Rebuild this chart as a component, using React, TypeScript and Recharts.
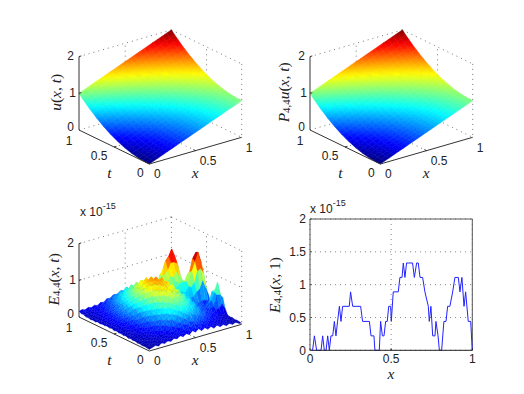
import React from "react";
import { ScatterChart, Scatter, XAxis, YAxis, ComposedChart, Line, CartesianGrid, ReferenceLine } from "recharts";

// u(x,t), rows t = 0..1, columns x = 0..1 (step 0.05), values x100
const uGrid: number[][] = [
[0,5,10,15,20,25,30,35,40,45,50,55,60,65,70,75,80,85,90,95,100],
[0,5,10,15,20,25,30,35,40,45,50,55,60,65,70,75,80,85,90,95,100],
[1,6,11,16,21,26,31,36,41,46,51,56,61,66,71,76,81,86,91,96,101],
[2,7,12,17,22,27,32,37,42,47,52,57,62,67,72,77,82,87,92,97,102],
[4,9,14,19,24,29,34,39,44,49,54,59,64,69,74,79,84,89,94,99,104],
[6,11,16,21,26,31,36,41,46,51,56,61,66,71,76,81,86,91,96,101,106],
[9,14,19,24,29,34,39,44,49,54,59,64,69,74,79,84,89,94,99,104,109],
[12,17,22,27,32,37,42,47,52,57,62,67,72,77,82,87,92,97,102,107,112],
[16,21,26,31,36,41,46,51,56,61,66,71,76,81,86,91,96,101,106,111,116],
[20,25,30,35,40,45,50,55,60,65,70,75,80,85,90,95,100,105,110,115,120],
[25,30,35,40,45,50,55,60,65,70,75,80,85,90,95,100,105,110,115,120,125],
[30,35,40,45,50,55,60,65,70,75,80,85,90,95,100,105,110,115,120,125,130],
[36,41,46,51,56,61,66,71,76,81,86,91,96,101,106,111,116,121,126,131,136],
[42,47,52,57,62,67,72,77,82,87,92,97,102,107,112,117,122,127,132,137,142],
[49,54,59,64,69,74,79,84,89,94,99,104,109,114,119,124,129,134,139,144,149],
[56,61,66,71,76,81,86,91,96,101,106,111,116,121,126,131,136,141,146,151,156],
[64,69,74,79,84,89,94,99,104,109,114,119,124,129,134,139,144,149,154,159,164],
[72,77,82,87,92,97,102,107,112,117,122,127,132,137,142,147,152,157,162,167,172],
[81,86,91,96,101,106,111,116,121,126,131,136,141,146,151,156,161,166,171,176,181],
[90,95,100,105,110,115,120,125,130,135,140,145,150,155,160,165,170,175,180,185,190],
[100,105,110,115,120,125,130,135,140,145,150,155,160,165,170,175,180,185,190,195,200],
];
const pGrid = uGrid;

// E(x,t), rows t = 0..1, columns x = 0..1, values x100 (unit 1e-15)
const eGrid: number[][] = [
[4,7,10,6,12,8,13,9,15,11,17,12,18,13,21,15,22,14,20,13,18,11,17,10,14,8,12,7,10,5,3],
[5,9,6,11,8,14,9,15,10,17,12,20,14,24,16,26,18,25,15,22,14,20,12,17,9,14,8,11,7,9,4],
[6,6,11,7,12,9,14,10,17,12,21,15,27,18,31,22,33,24,27,20,24,16,19,12,16,9,14,7,11,6,5],
[5,10,7,13,9,15,10,18,13,22,18,27,24,32,29,35,33,34,26,31,23,25,17,20,13,17,11,12,9,9,4],
[7,7,12,8,14,12,17,15,21,21,30,28,36,34,43,38,46,33,42,28,35,22,29,17,22,13,17,9,14,7,6],
[6,10,8,13,11,18,13,25,20,33,28,43,38,49,43,52,46,50,39,43,31,34,24,26,17,20,13,14,10,10,5],
[8,8,12,10,17,13,22,20,30,29,43,38,52,48,57,52,58,47,54,39,46,30,36,22,26,16,20,11,15,9,7],
[7,11,9,15,13,21,17,30,27,41,37,53,49,61,56,67,54,65,47,55,41,45,30,34,21,26,17,25,27,36,21],
[9,9,14,12,19,17,27,26,37,37,51,49,63,61,69,64,71,58,65,48,53,38,43,26,30,21,29,31,60,58,48],
[7,12,11,17,15,25,22,36,34,49,46,63,59,73,68,78,66,75,57,65,47,50,38,36,25,30,25,45,64,89,52],
[10,9,15,13,22,21,31,32,45,45,59,57,75,68,85,74,81,70,75,58,61,45,49,32,34,25,31,33,64,66,52],
[8,13,12,19,18,29,27,42,42,56,55,73,68,87,80,90,76,85,70,71,57,57,44,42,29,33,25,31,34,48,23],
[10,10,17,15,25,25,35,38,52,52,69,68,85,80,95,86,93,80,85,68,69,50,55,38,38,27,29,20,25,18,14],
[9,14,13,21,21,33,31,48,48,65,63,83,78,95,88,101,88,95,80,81,62,65,48,48,33,39,27,31,31,27,12],
[11,11,18,17,29,29,39,42,58,58,77,76,93,88,103,96,101,90,91,76,77,58,59,42,44,44,54,60,80,58,35],
[9,15,15,23,24,35,35,52,53,70,70,89,86,103,98,107,96,101,88,89,68,71,54,55,40,66,76,105,110,96,49],
[12,12,19,20,30,31,43,46,62,62,81,80,99,94,109,102,107,96,97,82,81,62,63,46,52,66,104,128,152,122,71],
[10,15,16,24,25,37,36,54,56,72,72,91,90,105,102,113,100,107,90,91,72,73,56,56,48,76,100,134,148,132,66],
[12,11,19,20,30,30,44,46,62,64,81,82,97,96,109,102,107,94,99,80,81,62,66,62,72,72,88,98,116,88,53],
[10,14,15,23,24,35,35,52,52,70,70,87,86,101,98,107,94,99,86,89,70,74,64,74,68,76,64,76,66,60,31],
[11,11,18,18,29,28,40,42,58,58,77,76,91,90,101,94,101,88,91,76,79,74,87,84,95,80,62,40,37,23,18],
[9,14,14,21,22,33,31,48,48,64,62,81,78,93,88,99,86,91,78,81,74,93,102,119,118,113,80,50,25,21,11],
[11,10,17,16,26,25,36,38,52,52,67,66,81,78,91,82,89,78,81,68,79,86,124,134,152,130,102,44,25,13,13],
[8,13,13,19,20,29,27,42,42,54,54,70,66,80,76,86,74,80,66,70,64,86,100,118,124,114,78,44,17,17,8],
[10,9,16,15,23,22,31,33,44,44,59,56,71,66,79,70,79,64,71,56,63,60,78,76,88,68,54,25,21,10,11],
[8,12,12,17,16,26,23,36,34,48,46,60,56,70,64,74,62,68,56,58,46,54,42,52,42,46,26,25,11,14,7],
[10,9,14,13,20,18,28,26,38,36,50,46,60,54,66,56,66,52,58,46,48,36,38,26,30,20,23,13,16,8,9],
[9,12,11,16,14,22,20,31,27,40,36,50,44,58,50,60,48,56,44,48,36,40,26,30,18,24,14,18,9,13,6],
[13,11,15,13,18,16,25,20,32,28,40,36,48,42,54,44,52,42,46,36,40,28,32,20,24,14,20,10,14,7,8],
[12,16,12,17,14,20,18,24,23,32,31,38,36,44,40,46,40,43,36,38,28,30,22,24,16,18,12,14,8,10,5],
[16,18,15,19,16,20,17,23,21,28,26,33,31,36,34,38,34,36,30,33,25,27,19,21,15,16,11,13,8,9,5],
];

// E(x,1) line
const lineX = [0,.016,.027,.041,.068,.078,.088,.099,.109,.119,.129,.14,.15,.16,.17,.181,.191,.201,.242,.25,.263,.312,.324,.366,.376,.394,.4,.427,.435,.446,.456,.466,.476,.485,.497,.501,.513,.544,.554,.567,.575,.585,.595,.606,.632,.643,.657,.667,.678,.694,.708,.729,.735,.745,.756,.77,.776,.789,.797,.811,.825,.838,.848,.862,.879,.893,.914,.924,.936,.949,.959,.975,.99,1];
const lineE = [0,0,.22,0,0,.22,0,0,.22,0,.22,.22,.44,.22,.44,.67,.44,.67,.67,.89,.67,.67,.44,.44,.22,.22,0,0,.44,.22,.22,.44,.44,.67,.67,.44,.89,.89,1.11,1.11,1.33,1.11,1.33,1.33,1.33,1.11,1.33,1.33,1.11,1.11,.89,.67,.44,.67,.22,.22,.44,.22,0,0,.44,.44,.67,.67,.89,1.11,1.11,.89,1.11,.67,.89,.44,.44,0];

const planeTicks = [0, 0.5, 1];
const zTicks = [0, 1, 2];
const lineYTicks = [0, 0.5, 1, 1.5, 2];

const W = 250, H = 200;
const OX = 119.3, OY = H - 154;
const SANS = "'Liberation Sans', Arial, sans-serif";
const SERIF = "'Liberation Serif', serif";

type Run = { s: string; k: "i" | "r" | "sub" };
const labelU: Run[] = [{ s: "u", k: "i" }, { s: "(", k: "r" }, { s: "x", k: "i" }, { s: ", ", k: "r" }, { s: "t", k: "i" }, { s: ")", k: "r" }];
const labelP: Run[] = [{ s: "P", k: "i" }, { s: "4,4", k: "sub" }, ...labelU];
const labelE: Run[] = [{ s: "E", k: "i" }, { s: "4,4", k: "sub" }, { s: "(", k: "r" }, { s: "x", k: "i" }, { s: ", ", k: "r" }, { s: "t", k: "i" }, { s: ")", k: "r" }];
const labelE1: Run[] = [{ s: "E", k: "i" }, { s: "4,4", k: "sub" }, { s: "(", k: "r" }, { s: "x", k: "i" }, { s: ", 1)", k: "r" }];
const labelX: Run[] = [{ s: "x", k: "i" }];
const labelT: Run[] = [{ s: "t", k: "i" }];

const project = (x: number, t: number, z: number) => ({
  X: OX + 92.4 * x - 70.3 * t,
  Y: OY + 26.7 * x + 34 * t + 36.7 * z,
});

const clamp = (v: number) => Math.max(0, Math.min(1, v));
const jet = (v: number) => {
  const r = clamp(Math.min(4 * v - 1.5, -4 * v + 4.5));
  const g = clamp(Math.min(4 * v - 0.5, -4 * v + 3.5));
  const b = clamp(Math.min(4 * v + 0.5, -4 * v + 2.5));
  return `rgb(${Math.round(r * 255)},${Math.round(g * 255)},${Math.round(b * 255)})`;
};

// flat cells: coloured by their first corner. smooth cells: a gradient along the cell's own slope.
const buildCells = (grid: number[][], cmax: number, smooth: string | null) => {
  const cells: any[] = [];
  const nt = grid.length, nx = grid[0].length;
  for (let i = nt - 2; i >= 0; i--) {
    for (let j = nx - 2; j >= 0; j--) {
      const corners: [number, number, number][] = [
        [j, i, grid[i][j]],
        [j + 1, i, grid[i][j + 1]],
        [j + 1, i + 1, grid[i + 1][j + 1]],
        [j, i + 1, grid[i + 1][j]],
      ];
      const pts = corners.map(([a, b, v]) => project(a / (nx - 1), b / (nt - 1), v / 100));
      const X = pts.reduce((s, p) => s + p.X, 0) / 4;
      const Y = pts.reduce((s, p) => s + p.Y, 0) / 4;
      const mean = corners.reduce((s, c) => s + c[2], 0) / 400;
      const cell: any = { X, Y, off: pts.map((p) => [p.X - X, p.Y - Y]) };
      if (smooth) {
        const dzx = (corners[1][2] + corners[2][2] - corners[0][2] - corners[3][2]) / 200;
        const dzt = (corners[3][2] + corners[2][2] - corners[0][2] - corners[1][2]) / 200;
        const ex = [(pts[1].X + pts[2].X - pts[0].X - pts[3].X) / 2, (pts[1].Y + pts[2].Y - pts[0].Y - pts[3].Y) / 2];
        const et = [(pts[3].X + pts[2].X - pts[0].X - pts[1].X) / 2, (pts[3].Y + pts[2].Y - pts[0].Y - pts[1].Y) / 2];
        const det = ex[0] * et[1] - ex[1] * et[0];
        const gx = (dzx * et[1] - dzt * ex[1]) / det;
        const gy = (ex[0] * dzt - et[0] * dzx) / det;
        const g2 = gx * gx + gy * gy || 1;
        const d = 0.09;
        cell.grad = {
          id: `${smooth}${i}_${j}`,
          dx: (gx / g2) * d,
          dy: (gy / g2) * d,
          stops: [jet((mean - d) / cmax), jet(mean / cmax), jet((mean + d) / cmax)],
        };
        cell.color = `url(#${cell.grad.id})`;
      } else {
        cell.color = jet((mean * 0.5 + (corners[0][2] / 100) * 0.5) / cmax);
      }
      cells.push(cell);
    }
  }
  return cells;
};

const CellShape = (p: any) => {
  const { cx, cy, payload } = p;
  const pts = payload.off.map((o: number[]) => `${cx + o[0]},${cy - o[1]}`).join(" ");
  const g = payload.grad;
  return (
    <g>
      {g && (
        <defs>
          <linearGradient id={g.id} gradientUnits="userSpaceOnUse" x1={cx - g.dx} y1={cy + g.dy} x2={cx + g.dx} y2={cy - g.dy}>
            <stop offset="0" stopColor={g.stops[0]} />
            <stop offset="0.5" stopColor={g.stops[1]} />
            <stop offset="1" stopColor={g.stops[2]} />
          </linearGradient>
        </defs>
      )}
      <polygon points={pts} fill={payload.color} stroke={payload.color} strokeWidth={g ? 0.6 : 0.3} />
    </g>
  );
};
const Nothing = () => <g />;

const MathRuns = ({ x, y, rot, runs, size = 15.5 }: { x: number; y: number; rot?: boolean; runs: Run[]; size?: number }) => {
  let shift = 0;
  return (
    <text x={x} y={y} textAnchor="middle" dominantBaseline="central" fontFamily={SERIF} fontSize={size} fill="#222"
      transform={rot ? `rotate(-90 ${x} ${y})` : undefined}>
      {runs.map((r, i) => {
        const target = r.k === "sub" ? 3 : 0;
        const dy = target - shift;
        shift = target;
        return (
          <tspan key={i} dy={dy} fontStyle={r.k === "i" ? "italic" : "normal"} fontSize={r.k === "sub" ? size * 0.7 : size}>
            {r.s}
          </tspan>
        );
      })}
    </text>
  );
};

const Multiplier = ({ x, y }: { x: number; y: number }) => (
  <text x={x} y={y} fontFamily={SANS} fontSize={12} fill="#222">
    x 10<tspan dy={-7} fontSize={9}>-15</tspan>
  </text>
);

const TextShape = (p: any) => {
  const { cx, cy, payload } = p;
  if (payload.math) return <MathRuns x={cx} y={cy} rot={payload.rot} runs={payload.math} />;
  if (payload.mult) return <Multiplier x={cx} y={cy} />;
  return (
    <text x={cx} y={cy} textAnchor="middle" dominantBaseline="central" fontFamily={SANS} fontSize={12} fill="#222">
      {payload.text}
    </text>
  );
};

const seg = (a: number[], b: number[]) => {
  const p = project(a[0], a[1], a[2]);
  const q = project(b[0], b[1], b[2]);
  return [p, q];
};

const wallSegs = [
  seg([0, 1, 2], [1, 1, 2]), seg([1, 1, 2], [1, 0, 2]), seg([1, 1, 2], [1, 1, 0]), seg([1, 0, 2], [1, 0, 0]),
  seg([0, 1, 0], [1, 1, 0]), seg([1, 1, 0], [1, 0, 0]),
  seg([0, 1, 1], [1, 1, 1]), seg([1, 1, 1], [1, 0, 1]),
  seg([0.5, 1, 0], [0.5, 1, 2]), seg([1, 0.5, 0], [1, 0.5, 2]),
  seg([0.5, 0, 0], [0.5, 1, 0]), seg([0, 0.5, 0], [1, 0.5, 0]),
];
const axisSegs = [
  seg([0, 1, 0], [0, 1, 2]), seg([0, 1, 0], [0, 0, 0]), seg([0, 0, 0], [1, 0, 0]),
  seg([0, 1, 1], [0.025, 1, 1]), seg([0, 1, 2], [0.025, 1, 2]),
  seg([0, 0.5, 0], [0.025, 0.5, 0]), seg([0.5, 0, 0], [0.5, 0.03, 0]),
];

const xTickOff: Record<number, number[]> = { 0: [8, -10], 0.5: [12.5, -10], 1: [7.5, -10.7] };
const tTickOff: Record<number, number[]> = { 0: [-9, -9], 0.5: [-15, -9], 1: [-10, -11] };
const zTickOff: Record<number, number[]> = { 0: [-8.5, 3], 1: [-6.5, 0], 2: [-8.5, 0.5] };

const Surface3D = ({ cells, zLabel, labelX0, left, top, mult }: any) => {
  const texts: any[] = [];
  planeTicks.forEach((v) => {
    const a = project(v, 0, 0);
    texts.push({ X: a.X + xTickOff[v][0], Y: a.Y + xTickOff[v][1], text: String(v) });
    const b = project(0, v, 0);
    texts.push({ X: b.X + tTickOff[v][0], Y: b.Y + tTickOff[v][1], text: String(v) });
  });
  zTicks.forEach((v) => {
    const c = project(0, 1, v);
    texts.push({ X: c.X + zTickOff[v][0], Y: c.Y + zTickOff[v][1], text: String(v) });
  });
  const o = project(0, 0, 0);
  texts.push({ X: o.X - 40, Y: o.Y - 8, math: labelT });
  texts.push({ X: o.X + 46, Y: o.Y - 8, math: labelX });
  texts.push({ X: labelX0, Y: project(0, 1, 1).Y + 1, math: zLabel, rot: true });
  if (mult) texts.push({ X: 50, Y: H - 19.3, mult: true });
  return (
    <div style={{ position: "absolute", left, top }}>
      <ScatterChart width={W} height={H} margin={{ top: 0, right: 0, bottom: 0, left: 0 }}>
        <XAxis dataKey="X" type="number" domain={[0, W]} hide />
        <YAxis dataKey="Y" type="number" domain={[0, H]} hide />
        {wallSegs.map((s, i) => (
          <Scatter key={"w" + i} data={s} shape={Nothing} isAnimationActive={false}
            line={{ stroke: "#777", strokeWidth: 1, strokeDasharray: "1 4" }} />
        ))}
        <Scatter data={cells} shape={CellShape} isAnimationActive={false} />
        {axisSegs.map((s, i) => (
          <Scatter key={"a" + i} data={s} shape={Nothing} isAnimationActive={false}
            line={{ stroke: "#333", strokeWidth: 1 }} />
        ))}
        <Scatter data={texts} shape={TextShape} isAnimationActive={false} />
      </ScatterChart>
    </div>
  );
};

const uCells = buildCells(uGrid, 2, "u");
const pCells = buildCells(pGrid, 2, "p");
const eCells = buildCells(eGrid, 1.45, null);
const lineData = lineX.map((x, i) => ({ x, e: lineE[i] }));

export default function App() {
  return (
    <div style={{ position: "absolute", left: 0, top: 0, width: 524, height: 394, background: "#fff", overflow: "hidden" }}>
      <Surface3D cells={uCells} zLabel={labelU} labelX0={25} left={30} top={10} />
      <Surface3D cells={pCells} zLabel={labelP} labelX0={22.3} left={260.7} top={10} />
      <Surface3D cells={eCells} zLabel={labelE} labelX0={22.7} left={30} top={196.7} mult />
      <div style={{ position: "absolute", left: 262, top: 200 }}>
        <ComposedChart width={240} height={180} data={lineData} margin={{ top: 19, right: 29.7, bottom: 0, left: 0 }}>
          <CartesianGrid stroke="#888" strokeDasharray="1 4" />
          <XAxis dataKey="x" type="number" domain={[0, 1]} ticks={planeTicks} height={29.7} interval={0}
            stroke="#222" tickSize={-2} tickMargin={6} tick={{ fontFamily: SANS, fontSize: 12, fill: "#222" }}
            label={{ content: () => <MathRuns x={129} y={173} runs={labelX} /> }} />
          <YAxis type="number" domain={[0, 2]} ticks={lineYTicks} width={48} interval={0}
            stroke="#555" tickSize={-2} tickMargin={6} tick={{ fontFamily: SANS, fontSize: 12, fill: "#222" }}
            label={{ content: () => <MathRuns x={12} y={85} rot runs={labelE1} /> }} />
          <ReferenceLine y={2} stroke="#555" />
          <ReferenceLine x={1} stroke="#555" />
          <Line dataKey="e" stroke="#2222ff" strokeWidth={1} dot={false} isAnimationActive={false} />
        </ComposedChart>
      </div>
      <svg style={{ position: "absolute", left: 262, top: 195 }} width={120} height={24}>
        <Multiplier x={48} y={18} />
      </svg>
    </div>
  );
}
